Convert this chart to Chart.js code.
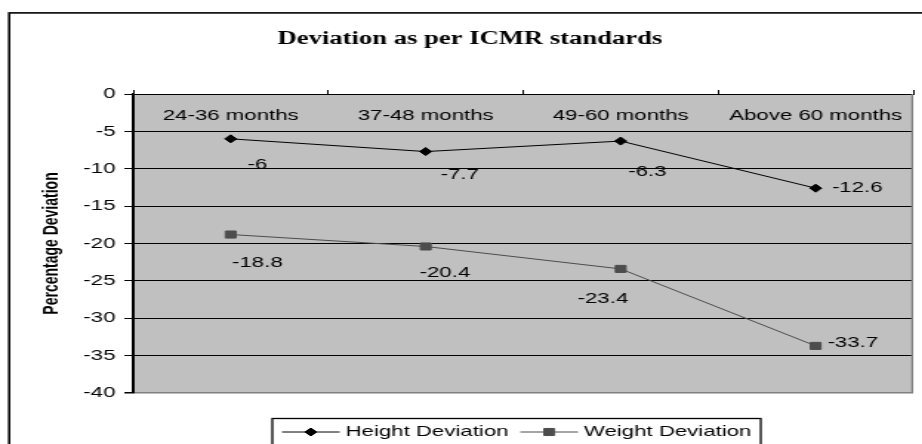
<!DOCTYPE html>
<html>
<head>
<meta charset="utf-8">
<script src="https://cdn.jsdelivr.net/npm/chart.js@4.4.1/dist/chart.umd.min.js"></script>
<style>
  html, body { margin: 0; padding: 0; background: #fff; overflow: hidden; }
  /* the chart is laid out narrow and stretched sideways */
  #wrap { width: 623px; height: 444px; transform: scaleX(1.48); transform-origin: 0 0; }
</style>
</head>
<body>
<div id="wrap"><canvas id="chart" width="623" height="444"></canvas></div>
<script>
const ageGroups = ["24-36 months", "37-48 months", "49-60 months", "Above 60 months"]
const heightDeviation = [-6, -7.7, -6.3, -12.6]
const weightDeviation = [-18.8, -20.4, -23.4, -33.7]
const yMin = -40
const yMax = 0
const yStep = 5

const sans = "'Liberation Sans', Arial, sans-serif"
const serif = "'Liberation Serif', 'Times New Roman', serif"

// where each value label sits relative to its point: [dx, dy, align]
const labelOffsets = [
  [[18, 26, "center"], [23, 23, "center"], [18, 31, "center"], [11, 0, "left"]],
  [[18, 28, "center"], [13, 26, "center"], [-12, 30, "center"], [8, -3, "left"]]
]

const plotFrame = {
  id: "plotFrame",
  beforeDraw(chart) {
    const { ctx, chartArea: a } = chart
    ctx.save()
    ctx.fillStyle = "#c0c0c0"
    ctx.fillRect(a.left, a.top, a.right - a.left, a.bottom - a.top)
    ctx.strokeStyle = "#000"
    ctx.lineWidth = 1.6
    ctx.strokeRect(6.2, 12.9, chart.width + 20, chart.height + 20)
    ctx.restore()
  },
  beforeDatasetsDraw(chart) {
    const { ctx, chartArea: a, scales } = chart
    ctx.save()
    ctx.strokeStyle = "#808080"
    ctx.lineWidth = 1.3
    ctx.beginPath()
    ctx.moveTo(a.right - 0.6, a.top)
    ctx.lineTo(a.right - 0.6, a.bottom)
    ctx.stroke()

    // category names sit inside the plot, just under the top edge
    ctx.fillStyle = "#000"
    ctx.font = "15px " + sans
    ctx.textAlign = "center"
    ctx.textBaseline = "middle"
    chart.data.labels.forEach((lab, i) => {
      ctx.fillText(lab, scales.x.getPixelForValue(i), a.top + 21.5)
    })
    ctx.restore()
  }
}

const valueLabels = {
  id: "valueLabels",
  afterDatasetsDraw(chart) {
    const { ctx } = chart
    ctx.save()
    ctx.fillStyle = "#000"
    ctx.font = "15px " + sans
    ctx.textBaseline = "middle"
    chart.data.datasets.forEach((ds, d) => {
      chart.getDatasetMeta(d).data.forEach((pt, i) => {
        const [dx, dy, align] = labelOffsets[d][i]
        ctx.textAlign = align
        ctx.fillText(String(ds.data[i]), pt.x + dx, pt.y + dy)
      })
    })
    ctx.restore()
  }
}

const seriesLegend = {
  id: "seriesLegend",
  afterDraw(chart) {
    const { ctx } = chart
    const left = 184, top = 418.5, width = 330
    const y = 432
    ctx.save()
    ctx.strokeStyle = "#000"
    ctx.lineWidth = 1.3
    ctx.strokeRect(left, top, width, 40)
    ctx.font = "15px " + sans
    ctx.textBaseline = "middle"
    ctx.textAlign = "left"
    let x = left + 6.5
    chart.data.datasets.forEach(ds => {
      ctx.strokeStyle = ds.borderColor
      ctx.fillStyle = ds.pointBackgroundColor
      ctx.lineWidth = 1
      ctx.beginPath()
      ctx.moveTo(x, y)
      ctx.lineTo(x + 39, y)
      ctx.stroke()
      Chart.helpers.drawPoint(ctx, { pointStyle: ds.pointStyle, radius: ds.pointRadius, borderWidth: 1, rotation: 0 }, x + 19.5, y)
      x += 43
      ctx.fillStyle = "#000"
      ctx.fillText(ds.label, x, y)
      x += ctx.measureText(ds.label).width + 8
    })
    ctx.restore()
  }
}

new Chart(document.getElementById("chart"), {
  type: "line",
  data: {
    labels: ageGroups,
    datasets: [
      {
        label: "Height Deviation",
        data: heightDeviation,
        borderColor: "#000",
        borderWidth: 1,
        pointStyle: "rectRot",
        pointRadius: 4,
        pointHoverRadius: 4,
        pointBorderWidth: 1,
        pointBackgroundColor: "#000",
        pointBorderColor: "#000",
        tension: 0
      },
      {
        label: "Weight Deviation",
        data: weightDeviation,
        borderColor: "#4d4d4d",
        borderWidth: 1,
        pointStyle: "rect",
        pointRadius: 5,
        pointHoverRadius: 5,
        pointBorderWidth: 1,
        pointBackgroundColor: "#4d4d4d",
        pointBorderColor: "#4d4d4d",
        tension: 0
      }
    ]
  },
  options: {
    responsive: false,
    animation: false,
    // left padding pushes the centred title a little to the right
    layout: { padding: { left: 14, right: 2, top: 0, bottom: 51 } },
    scales: {
      x: {
        position: "top",
        offset: true,
        ticks: { display: false },
        grid: { offset: true, drawOnChartArea: false, tickLength: 4, color: "#000" },
        border: { display: true, color: "#000", width: 1 },
        afterFit(scale) { scale.height = 4 }
      },
      y: {
        min: yMin,
        max: yMax,
        ticks: { stepSize: yStep, color: "#000", font: { family: sans, size: 15 }, padding: 6 },
        grid: {
          color: c => (c.tick && c.tick.value === yMin ? "#808080" : "#000"),
          lineWidth: c => (c.tick && c.tick.value === yMin ? 1.5 : 1),
          tickColor: "#000",
          tickLength: 6
        },
        border: { color: "#000", width: 2 },
        title: {
          display: true,
          text: "Percentage Deviation",
          color: "#000",
          font: { family: sans, size: 14, weight: "bold" },
          padding: { top: 13, bottom: 0 }
        },
        afterFit(scale) { scale.width = 76 }
      }
    },
    plugins: {
      legend: { display: false },
      tooltip: { enabled: false },
      title: {
        display: true,
        text: "Deviation as per ICMR standards",
        color: "#000",
        font: { family: serif, size: 18, weight: "bold" },
        padding: { top: 29, bottom: 39.4 }
      }
    }
  },
  plugins: [plotFrame, valueLabels, seriesLegend]
})
</script>
</body>
</html>
